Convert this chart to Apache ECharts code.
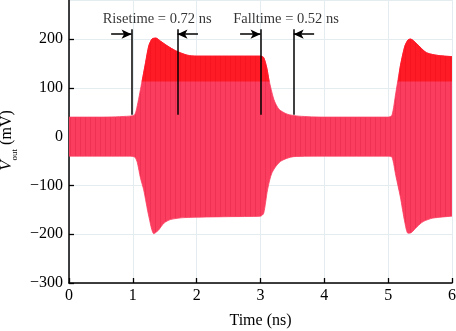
<!DOCTYPE html>
<html>
<head>
<meta charset="utf-8">
<script src="https://cdn.jsdelivr.net/npm/echarts@6/dist/echarts.min.js"></script>
<style>
  html, body { margin: 0; padding: 0; background: #fff; }
  #chart { width: 456px; height: 331px; }
</style>
</head>
<body>
<div id="chart"></div>
<script>
// Output swing envelope of the oscillator (mV) against time (ns)
const upperTime = [0, 0.5, 0.95, 1.03, 1.08, 1.12, 1.2, 1.25, 1.3, 1.36, 1.43, 1.54, 1.67, 1.85, 2.0, 2.5, 3.0, 3.05, 3.1, 3.13, 3.21, 3.29, 3.42, 3.6, 4.0, 5.0, 5.06, 5.12, 5.19, 5.26, 5.31, 5.35, 5.45, 5.6, 5.8, 6.0];
const upperEnv  = [40, 40, 42, 45, 70, 97, 152, 186, 200, 202, 196, 186, 176, 167, 165, 165, 165, 162, 140, 118, 76, 56, 46, 42, 40, 40, 44, 90, 144, 185, 198, 200, 190, 172, 166, 164];

const lowerTime = [0, 0.5, 0.95, 1.03, 1.07, 1.12, 1.17, 1.25, 1.33, 1.4, 1.49, 1.59, 1.8, 2.5, 3.0, 3.05, 3.11, 3.18, 3.31, 3.52, 4.0, 5.0, 5.06, 5.12, 5.19, 5.26, 5.31, 5.36, 5.45, 5.55, 5.7, 6.0];
const lowerEnv  = [-40, -40, -40, -42, -53, -85, -109, -163, -199, -192, -177, -170, -166, -164, -163, -157, -109, -74, -51, -41, -40, -40, -42, -80, -123, -175, -198, -197, -185, -174, -167, -163];

// Dense crest of the waveform near the top of each pulse
const crestBase = 113;
const crestTime1 = [1.145, 1.2, 1.25, 1.3, 1.36, 1.43, 1.54, 1.67, 1.85, 2.0, 2.5, 3.0, 3.05, 3.1, 3.135];
const crestVal1  = [113, 152, 186, 200, 202, 196, 186, 176, 167, 165, 165, 165, 162, 140, 113];
const crestTime2 = [5.16, 5.19, 5.26, 5.31, 5.35, 5.45, 5.6, 5.8, 6.0];
const crestVal2  = [113, 144, 185, 198, 200, 190, 172, 166, 164];

// Transition markers
const riseStart = 0.98, riseTime = 0.72;
const fallStart = 3.0,  fallTime = 0.52;

const xTicks = [0, 1, 2, 3, 4, 5, 6];
const yTicks = [-300, -200, -100, 0, 100, 200];

const pairs = (xs, ys) => xs.map((x, i) => [x, ys[i]]);

// Faint vertical striping of the high-frequency carrier
function stripes(base, dark) {
  const c = document.createElement('canvas');
  c.width = 5; c.height = 1;
  const g = c.getContext('2d');
  g.fillStyle = base; g.fillRect(0, 0, 5, 1);
  g.fillStyle = dark; g.fillRect(0, 0, 1, 1);
  return { image: c, repeat: 'repeat' };
}

const serif = 'Liberation Serif';
const ink = '#000';
const bodyColor = '#fb3d5f';
const bodyStripe = '#ef3253';
const crestColor = '#ff1b26';
const crestStripe = '#f5141f';

const chart = echarts.init(document.getElementById('chart'), null, { renderer: 'canvas' });

const envSeries = (name, data, origin, color, fill) => ({
  name, type: 'line', data, smooth: 0.25, showSymbol: false, silent: true,
  lineStyle: { width: 0.8, color },
  areaStyle: { origin, color: fill, opacity: 1 },
  z: 2
});

const tick = (x, y) => ({ coord: [x, y] });
const vLine = (x) => [tick(x, 45), tick(x, 220)];
const arrowY = 210, arrowLen = 0.32;
const arrow = (from, to) => [
  Object.assign(tick(from, arrowY), { symbol: 'none' }),
  Object.assign(tick(to, arrowY), { symbol: 'arrow', symbolSize: [7, 10] })
];
const minus = (v) => String(v).replace('-', '\u2212');

chart.setOption({
  animation: false,
  backgroundColor: '#fff',
  grid: { left: 69, right: 4, top: 0, bottom: 48, containLabel: false, outerBoundsMode: 'none' },
  xAxis: {
    type: 'value', min: xTicks[0], max: xTicks[xTicks.length - 1], interval: 1,
    name: 'Time (ns)', nameLocation: 'middle', nameGap: 30,
    nameTextStyle: { fontFamily: serif, fontSize: 16, color: ink },
    axisLine: { show: true, onZero: false, lineStyle: { color: ink, width: 1.5 } },
    axisTick: { inside: true, length: 5, lineStyle: { color: ink, width: 1.3 } },
    axisLabel: { fontFamily: serif, fontSize: 16, color: ink, margin: 5 },
    splitLine: { show: true, lineStyle: { color: '#e4ecef', width: 1 } }
  },
  yAxis: {
    type: 'value', min: yTicks[0], max: 280, interval: 100,
    name: '{v|V}{s|out}{u| (mV)}', nameLocation: 'middle', nameRotate: 90, nameGap: 40,
    nameTextStyle: {
      color: ink, padding: [0, 0, 0, 2],
      rich: {
        v: { fontFamily: serif, fontStyle: 'italic', fontSize: 17, color: ink, lineHeight: 18, verticalAlign: 'bottom' },
        s: { fontFamily: serif, fontSize: 9, color: ink, lineHeight: 18, verticalAlign: 'bottom', padding: [0, 0, -4, 0] },
        u: { fontFamily: serif, fontSize: 16, color: ink, lineHeight: 18, verticalAlign: 'bottom' }
      }
    },
    axisLine: { show: true, onZero: false, lineStyle: { color: ink, width: 1.5 } },
    axisTick: { inside: true, length: 5, lineStyle: { color: ink, width: 1.3 } },
    axisLabel: { fontFamily: serif, fontSize: 16, color: ink, margin: 6, showMaxLabel: false, formatter: minus },
    splitLine: { show: true, lineStyle: { color: '#e4ecef', width: 1 } }
  },
  series: [
    envSeries('upper', pairs(upperTime, upperEnv), -10, bodyColor, stripes(bodyColor, bodyStripe)),
    envSeries('lower', pairs(lowerTime, lowerEnv), 0, bodyColor, stripes(bodyColor, bodyStripe)),
    Object.assign(envSeries('crest1', pairs(crestTime1, crestVal1), crestBase, crestColor, stripes(crestColor, crestStripe)), { z: 3 }),
    Object.assign(envSeries('crest2', pairs(crestTime2, crestVal2), crestBase, crestColor, stripes(crestColor, crestStripe)), { z: 3 }),
    {
      name: 'notes', type: 'scatter', z: 5, silent: true,
      symbolSize: 1, itemStyle: { color: 'rgba(0,0,0,0)' },
      data: [
        { name: `Risetime = ${riseTime.toFixed(2)} ns`, value: [1.38, 240] },
        { name: `Falltime = ${fallTime.toFixed(2)} ns`, value: [3.40, 240] }
      ],
      label: { show: true, position: 'inside', formatter: '{b}', fontFamily: serif, fontSize: 14.5, color: ink },
      markLine: {
        silent: true, animation: false, symbol: ['none', 'none'],
        label: { show: false },
        lineStyle: { color: ink, width: 1.5, type: 'solid' },
        data: [
          vLine(riseStart), vLine(riseStart + riseTime),
          vLine(fallStart), vLine(fallStart + fallTime),
          arrow(riseStart - arrowLen, riseStart),
          arrow(riseStart + riseTime + arrowLen, riseStart + riseTime),
          arrow(fallStart - arrowLen, fallStart),
          arrow(fallStart + fallTime + arrowLen, fallStart + fallTime)
        ]
      }
    }
  ]
});
</script>
</body>
</html>
